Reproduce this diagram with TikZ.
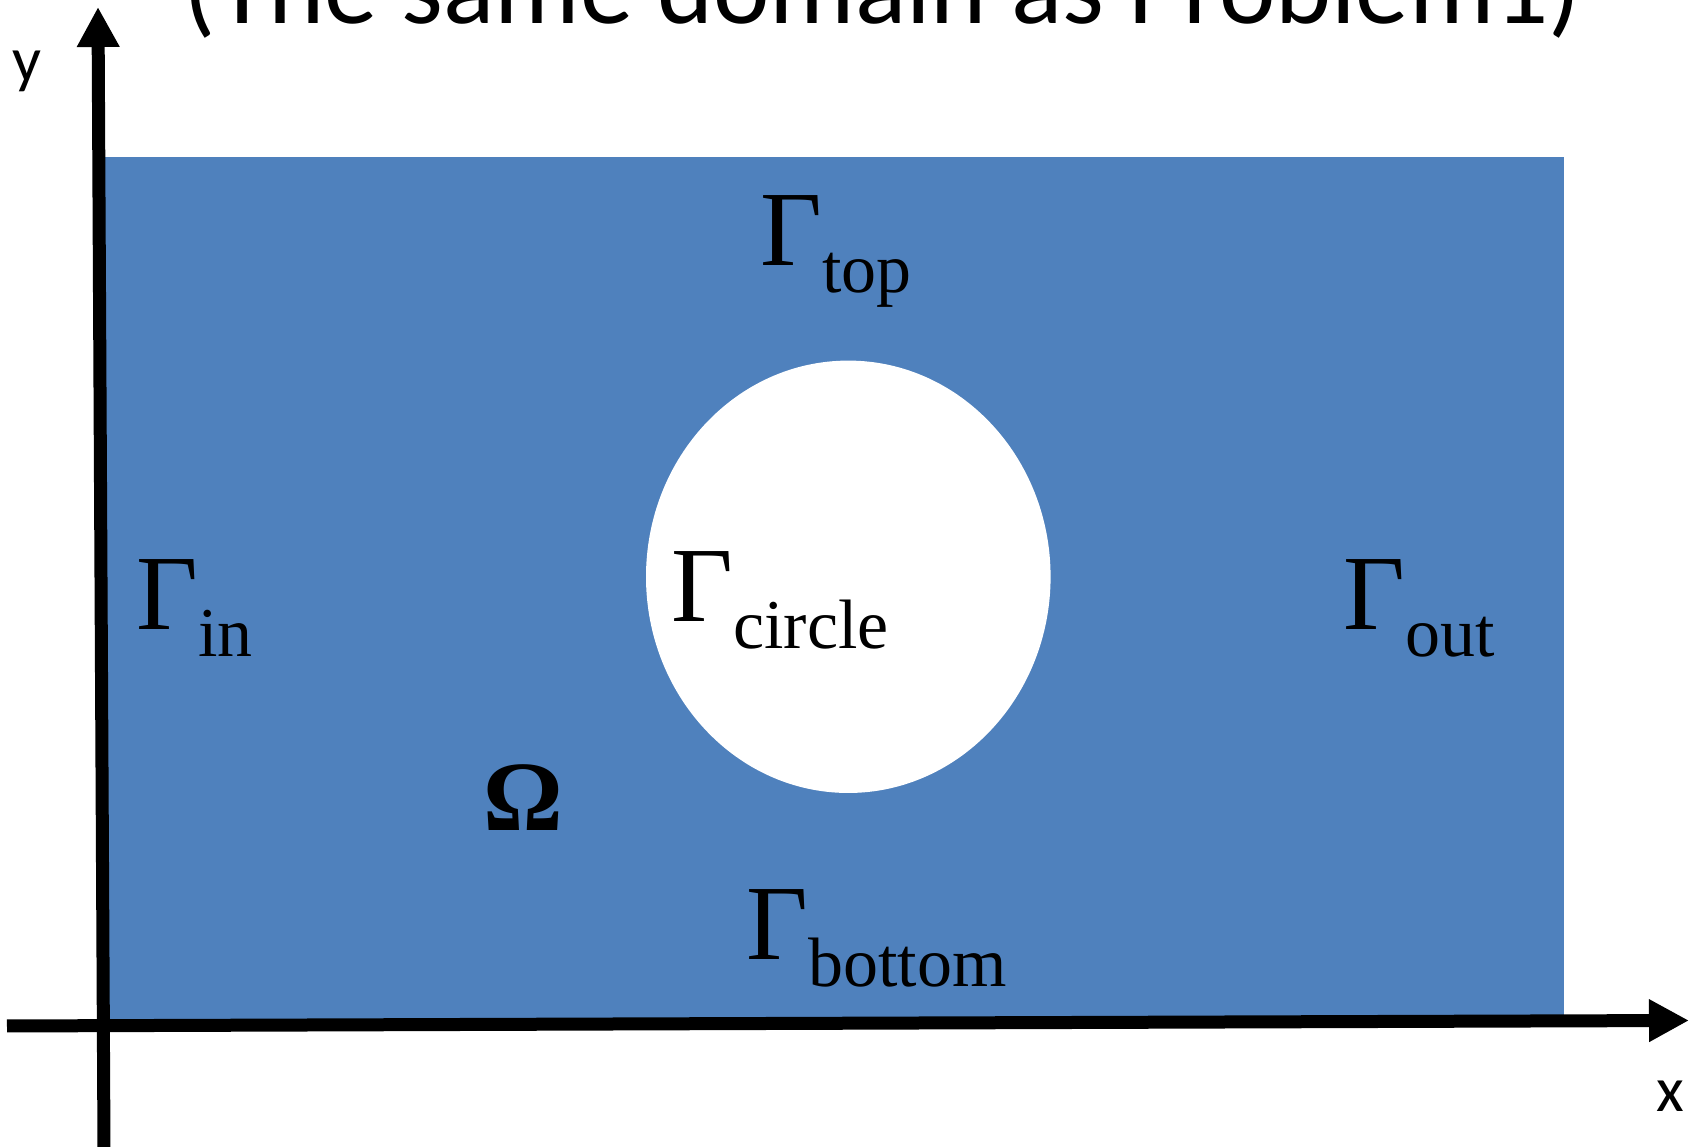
\documentclass[tikz,border=0pt]{standalone}
\usepackage{fontspec}
\setmainfont{Liberation Serif}
\newfontfamily\axisfont{Carlito}
\usepackage{tikz}
\usetikzlibrary{arrows.meta}
\usepackage{xcolor}
\definecolor{domainblue}{RGB}{79,129,189}
% boundary name: Gamma with a lowered, smaller subscript
\newcommand{\bndname}[1]{Γ\raisebox{-0.27cm}{\fontsize{19.9}{24}\selectfont #1}}
\tikzset{
  axis/.style       = {line width=0.13cm, -{Triangle[length=0.4cm, width=0.4cm]}},
  domain fill/.style= {fill=domainblue},
  hole fill/.style  = {fill=white},
  bnd label/.style  = {anchor=base west, inner sep=0pt, font=\fontsize{30.4}{36}\selectfont},
  axis label/.style = {anchor=base, inner sep=0pt, font=\axisfont\fontsize{18.2}{22}\selectfont},
}

\begin{document}
\begin{tikzpicture}[x=1cm, y=1cm]

  \useasboundingbox (-1.04, -1.21) rectangle (15.90, 10.26);

  % title (runs off the top edge)
  \node[anchor=base, inner sep=0pt, font=\axisfont\fontsize{30.4}{36}\selectfont]
    (title) at (7.785, 10.02) {(The same domain as Problem1)};

  % ── domain with circular hole ─────────────────────────────────────────────
  \fill[domain fill] (0, 0) rectangle (14.60, 8.69);
  \fill[hole fill] (7.443, 4.492) ellipse [x radius=2.023, y radius=2.162];

  % ── axes ──────────────────────────────────────────────────────────────────
  \coordinate (xstart) at (-0.97, 0);
  \coordinate (xend)   at (15.85, 0.055);
  \coordinate (ystart) at (0, -1.21);
  \coordinate (yend)   at (-0.06, 10.19);
  \draw[axis] (xstart) -- (xend);
  \draw[axis] (ystart) -- (yend);

  \node[axis label] (xlab) at (15.66, -0.86) {x};
  \node[axis label] (ylab) at (-0.77, 9.44) {y};

  % ── boundary labels ───────────────────────────────────────────────────────
  \node[bnd label] (gtop)    at (6.56, 7.60)  {\bndname{top}};
  \node[bnd label] (gcircle) at (5.67, 4.04)  {\bndname{circle}};
  \node[bnd label] (gin)     at (0.32, 3.96)  {\bndname{in}};
  \node[bnd label] (gout)    at (12.39, 3.96) {\bndname{out}};
  \node[bnd label] (gbottom) at (6.42, 0.66)  {\bndname{bottom}};

  % domain name
  \node[anchor=base west, inner sep=0pt, font=\bfseries\fontsize{28.3}{34}\selectfont]
    (omega) at (3.79, 1.95) {Ω};

\end{tikzpicture}
\end{document}
